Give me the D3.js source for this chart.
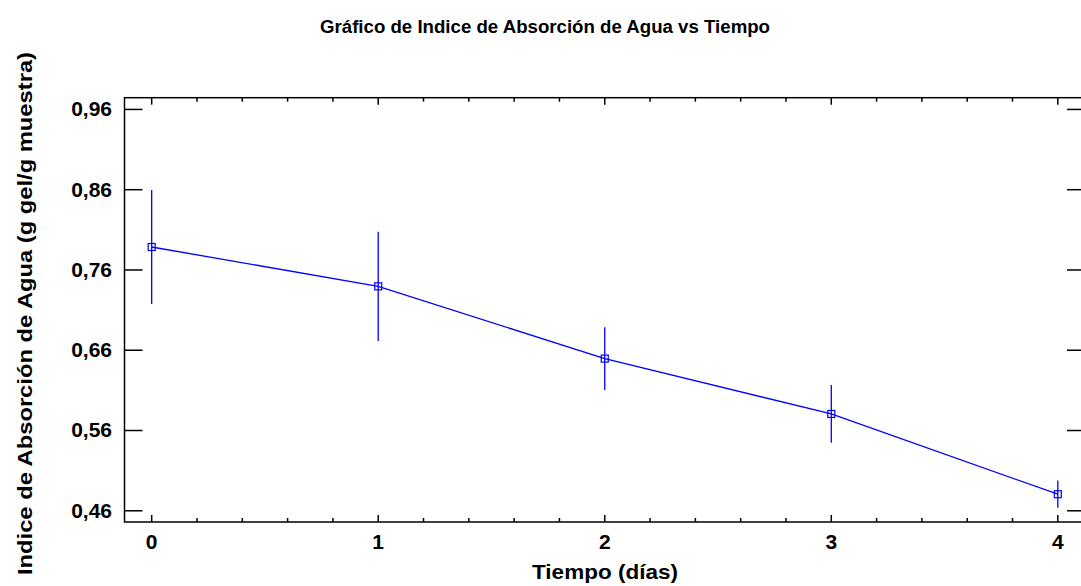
<!DOCTYPE html>
<html>
<head>
<meta charset="utf-8">
<script src="https://cdn.jsdelivr.net/npm/d3@7"></script>
<style>
  body { margin: 0; background: #fff; }
  text { font-family: "Liberation Sans", Arial, sans-serif; font-weight: bold; fill: #000; }
</style>
</head>
<body>
<div id="chart"></div>
<script>
'use strict';

// data
var days = [0, 1, 2, 3, 4];
var means = [0.788, 0.739, 0.649, 0.580, 0.480];
var errors = [0.071, 0.068, 0.039, 0.036, 0.017];
var yTicks = [0.46, 0.56, 0.66, 0.76, 0.86, 0.96];
var xTicks = [0, 1, 2, 3, 4];

var width = 1081, height = 586;
var margin = { left: 124.5, right: -4, top: 97.7, bottom: 64 };

var svg = d3.select('#chart')
    .append('svg')
    .attr('width', width)
    .attr('height', height);

var x = d3.scaleLinear()
    .domain([-0.12, 4.12])
    .range([margin.left, width - margin.right]);

var y = d3.scaleLinear()
    .domain([0.4454, 0.974])
    .range([height - margin.bottom, margin.top]);

var fmt = function(d) { return d3.format('.2f')(d).replace('.', ','); };

// frame
svg.append('rect')
    .attr('x', x.range()[0])
    .attr('y', y.range()[1])
    .attr('width', x.range()[1] - x.range()[0])
    .attr('height', y.range()[0] - y.range()[1])
    .attr('fill', 'none')
    .attr('stroke', '#000')
    .attr('stroke-width', 1.5);

// y axis ticks (left and right, inward)
var yl = svg.append('g').attr('transform', 'translate(' + x.range()[0] + ',0)')
    .call(d3.axisRight(y).tickValues(yTicks).tickSize(18).tickFormat(''));
var yr = svg.append('g').attr('transform', 'translate(' + x.range()[1] + ',0)')
    .call(d3.axisLeft(y).tickValues(yTicks).tickSize(18).tickFormat(''));
[yl, yr].forEach(function(g) {
    g.select('.domain').remove();
    g.selectAll('line').attr('stroke', '#000').attr('stroke-width', 1.5);
});

svg.selectAll('.ylab')
    .data(yTicks)
    .enter()
    .append('text')
    .attr('class', 'ylab')
    .attr('x', 112)
    .attr('y', function(d) { return y(d); })
    .attr('dy', '0.35em')
    .attr('text-anchor', 'end')
    .style('font-size', '21px')
    .text(fmt);

// x axis ticks (bottom and top, inward), minor every 0.2
var minor = d3.range(0, 4.01, 0.2).map(function(d) { return +d.toFixed(1); })
    .filter(function(d) { return xTicks.indexOf(d) < 0; });

function xTickGroup(ty, dir) {
    var g = svg.append('g');
    g.selectAll('.maj').data(xTicks).enter().append('line')
        .attr('x1', function(d) { return x(d); })
        .attr('x2', function(d) { return x(d); })
        .attr('y1', ty).attr('y2', ty + dir * 7)
        .attr('stroke', '#000').attr('stroke-width', 1.5);
    g.selectAll('.min').data(minor).enter().append('line')
        .attr('x1', function(d) { return x(d); })
        .attr('x2', function(d) { return x(d); })
        .attr('y1', ty).attr('y2', ty + dir * 4)
        .attr('stroke', '#000').attr('stroke-width', 1.5);
}
xTickGroup(y.range()[0], -1);
xTickGroup(y.range()[1], 1);

svg.selectAll('.xlab')
    .data(xTicks)
    .enter()
    .append('text')
    .attr('class', 'xlab')
    .attr('x', function(d) { return x(d); })
    .attr('y', 549)
    .attr('text-anchor', 'middle')
    .style('font-size', '21px')
    .text(function(d) { return d; });

// titles
svg.append('text')
    .attr('x', 545)
    .attr('y', 33)
    .attr('text-anchor', 'middle')
    .attr('textLength', 450)
    .attr('lengthAdjust', 'spacingAndGlyphs')
    .style('font-size', '18px')
    .text('Gráfico de Indice de Absorción de Agua vs Tiempo');

svg.append('text')
    .attr('x', 605)
    .attr('y', 579)
    .attr('text-anchor', 'middle')
    .attr('textLength', 146)
    .attr('lengthAdjust', 'spacingAndGlyphs')
    .style('font-size', '21px')
    .text('Tiempo (días)');

svg.append('text')
    .attr('transform', 'translate(32,313.5) rotate(-90)')
    .attr('text-anchor', 'middle')
    .attr('textLength', 523)
    .attr('lengthAdjust', 'spacingAndGlyphs')
    .style('font-size', '21px')
    .text('Indice de Absorción de Agua (g gel/g muestra)');

// series
var pts = days.map(function(d, i) { return { x: d, m: means[i], e: errors[i] }; });

svg.append('path')
    .datum(pts)
    .attr('fill', 'none')
    .attr('stroke', '#0000ff')
    .attr('stroke-width', 1.3)
    .attr('d', d3.line().x(function(d) { return x(d.x); }).y(function(d) { return y(d.m); }));

svg.selectAll('.err')
    .data(pts)
    .enter()
    .append('line')
    .attr('x1', function(d) { return x(d.x); })
    .attr('x2', function(d) { return x(d.x); })
    .attr('y1', function(d) { return y(d.m + d.e); })
    .attr('y2', function(d) { return y(d.m - d.e); })
    .attr('stroke', '#0000ff')
    .attr('stroke-width', 1.3);

svg.selectAll('.mark')
    .data(pts)
    .enter()
    .append('rect')
    .attr('x', function(d) { return x(d.x) - 3.5; })
    .attr('y', function(d) { return y(d.m) - 3.5; })
    .attr('width', 7)
    .attr('height', 7)
    .attr('fill', 'none')
    .attr('stroke', '#0000ff')
    .attr('stroke-width', 1.2);
</script>
</body>
</html>
